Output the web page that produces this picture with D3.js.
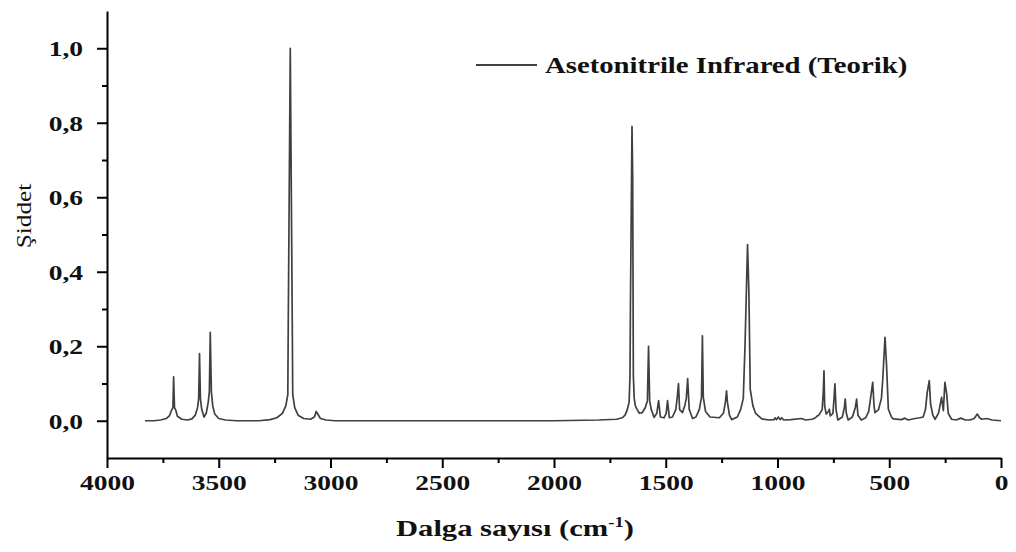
<!DOCTYPE html>
<html><head><meta charset="utf-8">
<script src="https://cdn.jsdelivr.net/npm/d3@7"></script>
<style>body{margin:0;background:#fff}svg{display:block}</style>
</head><body><svg id="c" width="1016" height="552"></svg>
<script>
// Spectrum trace: wavenumber (cm-1) and intensity
const wavenumber = [3830,3790,3760,3735,3720,3710,3705,3702,3698,3692,3685,3665,3640,3620,3605,3595,3590,3586,3582,3576,3566,3556,3547,3542,3538,3533,3527,3518,3500,3470,3420,3320,3270,3240,3215,3200,3191,3189,3180,3171,3169,3160,3145,3120,3090,3072,3064,3057,3045,3020,2980,2000,1800,1720,1695,1682,1672,1664,1660,1658,1651,1648,1645,1641,1636,1628,1618,1605,1592,1582,1577,1572,1565,1552,1540,1532,1524,1508,1498,1492,1484,1470,1455,1448,1443,1438,1425,1415,1408,1402,1395,1380,1365,1350,1340,1336,1332,1322,1302,1260,1242,1233,1228,1224,1215,1205,1180,1165,1153,1145,1134,1128,1122,1110,1098,1070,1040,1015,1011,1004,996,988,981,972,940,892,875,845,830,822,815,800,795,792,789,782,772,768,764,752,747,743,738,730,710,701,697,692,684,665,652,646,640,625,605,592,586,574,568,564,548,535,529,519,512,504,490,482,445,430,415,385,363,348,338,330,321,315,305,295,280,273,266,258,251,243,236,221,200,180,160,139,120,106,96,86,64,40,0];
const intensity = [0,0,0.002,0.006,0.014,0.03,0.035,0.118,0.035,0.028,0.012,0.004,0.002,0.005,0.015,0.035,0.058,0.18,0.058,0.03,0.01,0.02,0.05,0.078,0.237,0.078,0.04,0.018,0.006,0.002,0,0,0.003,0.008,0.02,0.04,0.07,0.26,1.0,0.26,0.07,0.035,0.015,0.006,0.004,0.01,0.025,0.018,0.006,0.002,0,0,0.002,0.004,0.008,0.015,0.03,0.05,0.12,0.31,0.79,0.66,0.12,0.06,0.04,0.03,0.02,0.022,0.035,0.054,0.2,0.054,0.03,0.009,0.02,0.054,0.01,0.008,0.02,0.054,0.008,0.01,0.03,0.066,0.1,0.03,0.022,0.04,0.06,0.113,0.03,0.006,0.01,0.03,0.063,0.228,0.063,0.025,0.01,0.008,0.02,0.05,0.08,0.05,0.015,0.003,0.01,0.03,0.06,0.21,0.473,0.345,0.085,0.04,0.02,0.005,0.002,0.003,0.008,0.003,0.01,0.003,0.008,0.002,0.003,0.006,0.002,0.004,0.008,0.013,0.015,0.03,0.08,0.134,0.04,0.018,0.025,0.031,0.013,0.02,0.06,0.099,0.03,0.002,0.01,0.035,0.058,0.02,0.002,0.01,0.035,0.058,0.015,0.002,0.008,0.025,0.05,0.103,0.04,0.022,0.03,0.06,0.112,0.224,0.148,0.031,0.01,0.005,0.003,0.007,0.002,0.006,0.008,0.01,0.03,0.076,0.108,0.045,0.015,0.004,0.02,0.04,0.063,0.027,0.103,0.072,0.02,0.004,0.002,0.007,0.002,0.002,0.006,0.018,0.008,0.004,0.006,0.002,0];

const xTicks = [4000,3500,3000,2500,2000,1500,1000,500,0];
const xMinorTicks = [3750,3250,2750,2250,1750,1250,750,250];
const yTicks = [0.0,0.2,0.4,0.6,0.8,1.0];
const yMinorTicks = [0.1,0.3,0.5,0.7,0.9];
const legendLabel = "Asetonitrile Infrared (Teorik)";
const xTitleMain = "Dalga sayısı (cm";
const xTitleSup = "-1";
const xTitleEnd = ")";
const yTitle = "Şiddet";

const svg = d3.select("#c");
const x = d3.scaleLinear().domain([4000,0]).range([107,1001]);
const y = d3.scaleLinear().domain([-0.1,1.1]).range([458,11]);
const FONT = "'Liberation Serif','Times New Roman',serif";
const SX = 1.25;

// trace
const pts = wavenumber.map((w,i)=>[w,intensity[i]]);
svg.append("path").datum(pts)
  .attr("fill","none").attr("stroke","#404040").attr("stroke-width",1.7)
  .attr("stroke-linejoin","round")
  .attr("d", d3.line().x(d=>x(d[0])).y(d=>y(d[1])));

// axes
const yAx = svg.append("g").attr("transform","translate(107,0)")
  .call(d3.axisLeft(y).tickValues(yTicks).tickSize(10).tickSizeOuter(0).tickPadding(14)
    .tickFormat(d=>d.toFixed(1).replace(".",",")));
const yMin = svg.append("g").attr("transform","translate(107,0)")
  .call(d3.axisLeft(y).tickValues(yMinorTicks).tickSize(5).tickSizeOuter(0).tickFormat(""));
yMin.select(".domain").remove();
const xAx = svg.append("g").attr("transform","translate(0,458)")
  .call(d3.axisBottom(x).tickValues(xTicks).tickSize(10).tickSizeOuter(0).tickPadding(6)
    .tickFormat(d=>String(d)));
const xMin = svg.append("g").attr("transform","translate(0,458)")
  .call(d3.axisBottom(x).tickValues(xMinorTicks).tickSize(5).tickSizeOuter(0).tickFormat(""));
xMin.select(".domain").remove();

svg.selectAll(".domain, .tick line").attr("stroke","#000").attr("stroke-width",2);
svg.selectAll(".tick text").attr("font-family",FONT).attr("font-weight","bold")
  .attr("font-size",22).attr("fill","#111");
yAx.selectAll(".tick text").attr("x",-24/SX).attr("transform",`scale(${SX},1)`).attr("dy","0.34em");
xAx.selectAll(".tick text").attr("transform",`scale(${SX},1)`);

// legend
svg.append("line").attr("x1",476).attr("x2",537).attr("y1",65).attr("y2",65)
  .attr("stroke","#000").attr("stroke-width",1.5);
svg.append("text").attr("transform","translate(545,73) scale(1.25,1)")
  .attr("font-family",FONT).attr("font-weight","bold").attr("font-size",23).attr("fill","#111")
  .text(legendLabel);

// x title
const xt = svg.append("text").attr("transform","translate(515,536) scale(1.33,1)")
  .attr("text-anchor","middle").attr("font-family",FONT).attr("font-weight","bold")
  .attr("font-size",23).attr("fill","#111");
xt.append("tspan").text(xTitleMain);
xt.append("tspan").attr("font-size",14).attr("dy",-9).text(xTitleSup);
xt.append("tspan").attr("dy",9).text(xTitleEnd);

// y title
svg.append("text").attr("transform","translate(31,216) rotate(-90) scale(1.15,1)")
  .attr("text-anchor","middle").attr("font-family",FONT).attr("font-size",22).attr("fill","#1a1010")
  .text(yTitle);
</script></body></html>
